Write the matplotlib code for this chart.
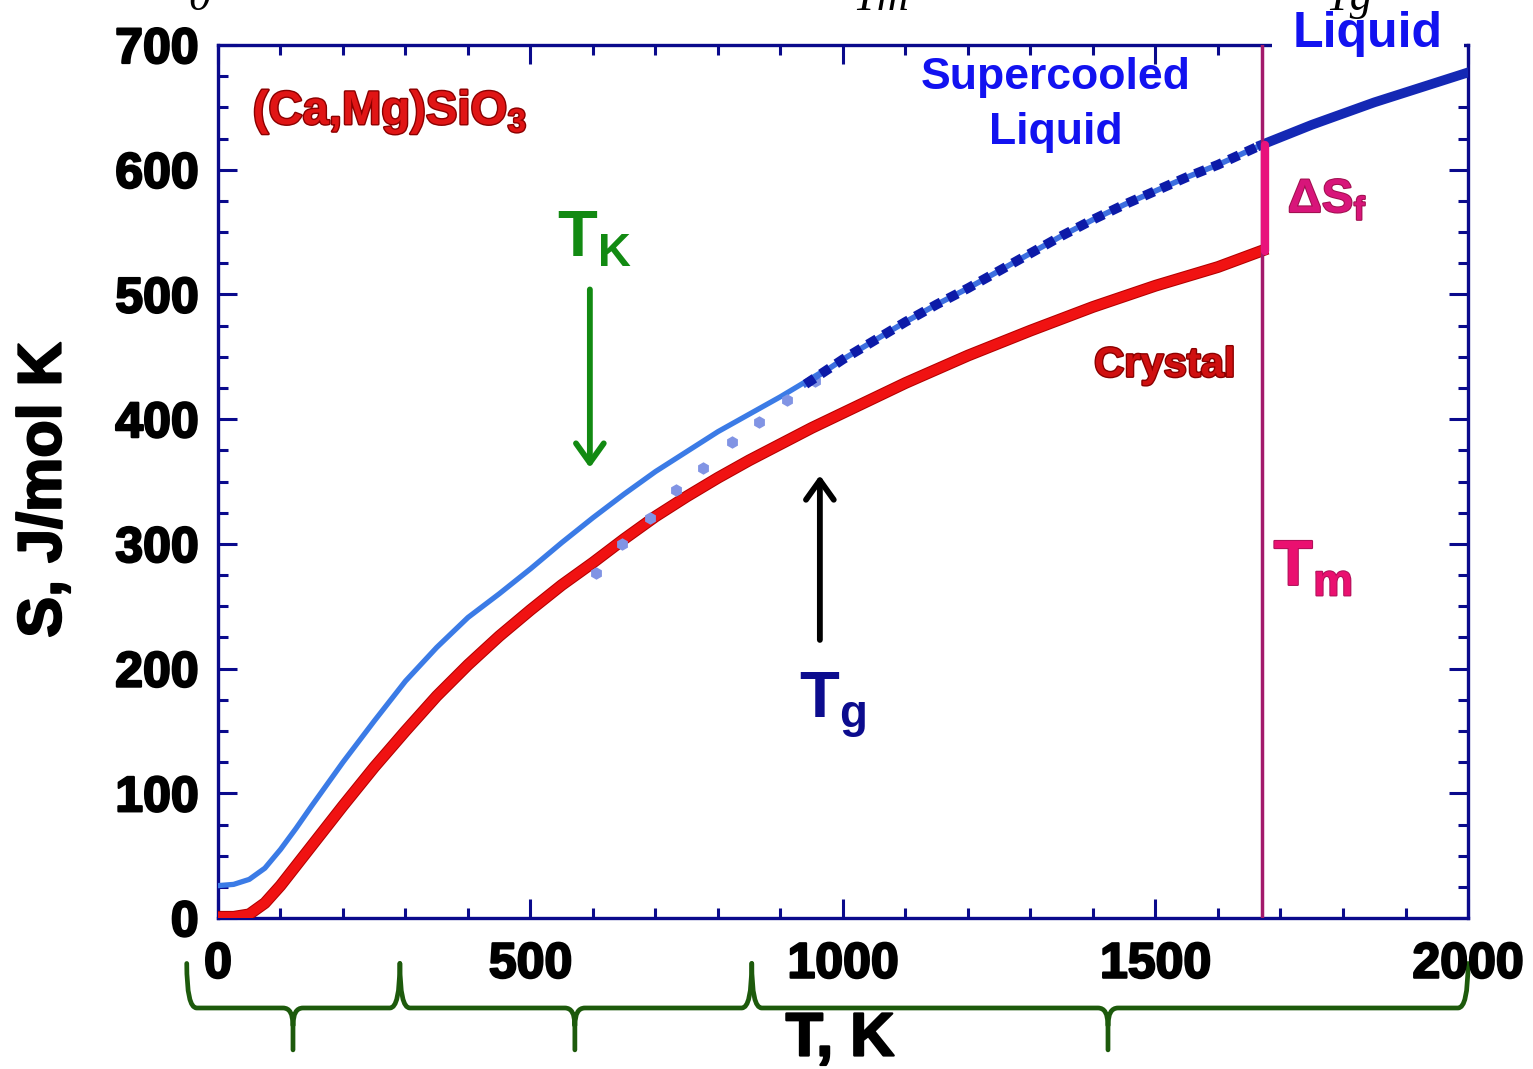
import matplotlib.pyplot as plt
import matplotlib.transforms as mtransforms
import matplotlib.patheffects as pe
from matplotlib.path import Path
from matplotlib.patches import PathPatch, Rectangle
from matplotlib.ticker import MultipleLocator

plt.rcParams['font.family'] = ['Liberation Sans', 'DejaVu Sans']
plt.rcParams['font.weight'] = 'bold'
plt.rcParams['mathtext.fontset'] = 'custom'
plt.rcParams['mathtext.rm'] = 'Liberation Sans:bold'
plt.rcParams['mathtext.bf'] = 'Liberation Sans:bold'

# Entropy S (J/mol K) against temperature T (K) for (Ca,Mg)SiO3
crystal_T = [0, 25, 50, 75, 100, 125, 150, 200, 250, 300, 350, 400, 450,
             500, 550, 600, 650, 700, 750, 800, 850, 900, 950, 1000, 1100,
             1200, 1300, 1400, 1500, 1600, 1670]
crystal_S = [1, 1, 3, 12, 26, 42, 58, 90, 121, 150, 178, 203, 226,
             247, 267, 285, 304, 322, 338, 353, 367, 380, 393, 405, 429,
             451, 471, 490, 507, 522, 535]

glass_T = [0, 25, 50, 75, 100, 125, 150, 200, 250, 300, 350, 400, 450,
           500, 550, 600, 650, 700, 750, 800, 850, 900, 960]
glass_S = [26, 27, 31, 40, 55, 72, 90, 125, 158, 190, 217, 241, 260,
           280, 301, 321, 340, 358, 374, 390, 404, 418, 436]

# extrapolated liquid below Tg (dots)
extrap_T = [605, 646, 691, 733, 776, 822, 866, 910, 955]
extrap_S = [277, 300, 321, 343, 361, 382, 398, 415, 431]

supercooled_T = [940, 1000, 1050, 1100, 1150, 1200, 1250, 1300, 1350, 1400,
                 1450, 1500, 1550, 1600, 1670]
supercooled_S = [428, 448, 463, 478, 492, 505, 519, 533, 547, 560,
                 572, 583, 594, 604, 620]

liquid_T = [1670, 1750, 1800, 1850, 1900, 1950, 2000]
liquid_S = [620, 636, 645, 654, 662, 670, 678]

T_melt = 1670

# temperature ranges marked by braces under the axis
brace_edges = [-50, 291, 854, 2000]
brace_tips = [120, 571, 1424]

navy = '#0a0a8c'

fig = plt.figure(figsize=(15.33, 10.69), dpi=100)
ax = fig.add_axes([0.1422, 0.1412, 0.8154, 0.8167])

outline = [pe.Stroke(linewidth=8.5, foreground='#b30000'), pe.Normal()]
ax.plot(crystal_T, crystal_S, color='#f01212', lw=7, path_effects=outline,
        solid_joinstyle='round', zorder=3)
ax.plot(glass_T, glass_S, color='#3b7be6', lw=3.8, solid_joinstyle='round', zorder=3)
ax.plot(extrap_T, extrap_S, 'h', color='#8194e4', ms=9, mec='none', zorder=3)
ax.plot(supercooled_T, supercooled_S, color='#3d6fe0', lw=4, zorder=3)
ax.plot(supercooled_T, supercooled_S, color='#0c1aa8', lw=7,
        dashes=(1.1, 0.8), zorder=3)
ax.plot(liquid_T, liquid_S, color='#1428b4', lw=7, zorder=3)

# melting line and entropy of fusion jump
ax.axvline(T_melt, color='#a3196b', lw=2.5, zorder=3)
ax.plot([T_melt + 6, T_melt + 6], [crystal_S[-1], supercooled_S[-1]],
        color='#e8127c', lw=6, solid_capstyle='round', zorder=4)

ax.set_xlim(0, 2000)
ax.set_ylim(0, 700)
ax.xaxis.set_major_locator(MultipleLocator(500))
ax.xaxis.set_minor_locator(MultipleLocator(100))
ax.yaxis.set_major_locator(MultipleLocator(100))
ax.yaxis.set_minor_locator(MultipleLocator(25))

for sp in ax.spines.values():
    sp.set_color(navy)
    sp.set_linewidth(2.4)
ax.tick_params(which='both', direction='in', top=True, right=True,
               color=navy, width=2.2)
ax.tick_params(which='major', length=14)
ax.tick_params(which='minor', length=7)
ax.tick_params(axis='x', pad=17, labelsize=36)
ax.tick_params(axis='y', pad=14, labelsize=36)
heavy = [pe.withStroke(linewidth=1.6, foreground='black')]
for lab in ax.get_xticklabels() + ax.get_yticklabels():
    lab.set_path_effects(heavy)

# white box over the top edge where the "Liquid" label sits
blend = mtransforms.blended_transform_factory(ax.transData, ax.transAxes)
ax.add_patch(Rectangle((1686, 0.975), 307, 0.04, transform=blend,
                       facecolor='white', edgecolor='none', zorder=5, clip_on=False))

fig.text(45 / 1533, 1 - 490 / 1069, 'S, J/mol K', rotation=90,
         ha='center', va='center', fontsize=44, fontweight='bold',
         path_effects=heavy)
fig.text(840 / 1533, 1 - 1040 / 1069, 'T, K',
         ha='center', va='center', fontsize=44, fontweight='bold',
         path_effects=heavy)

red_edge = [pe.withStroke(linewidth=2, foreground='#8a0000')]
ax.text(275, 646, '(Ca,Mg)SiO$_\\mathbf{3}$', color='#e01515', fontsize=34,
        ha='center', va='center', path_effects=red_edge)
ax.text(1515, 443, 'Crystal', color='#d01010', fontsize=30,
        ha='center', va='center', path_effects=red_edge)

ax.text(1341, 674, 'Supercooled', color='#1212f0', fontsize=32,
        ha='center', va='center')
ax.text(1341, 630, 'Liquid', color='#1212f0', fontsize=32,
        ha='center', va='center')
ax.text(1840, 709, 'Liquid', color='#1212f0', fontsize=36,
        ha='center', va='center', clip_on=False, zorder=6)

ax.text(603, 531, 'T$_\\mathbf{K}$', color='#128a12', fontsize=47,
        ha='center', va='baseline')
ax.text(984, 160, 'T$_\\mathbf{g}$', color='#0c0c8e', fontsize=47,
        ha='center', va='baseline')
ax.text(1752, 267, 'T$_\\mathbf{m}$', color='#ea1070', fontsize=46,
        ha='center', va='baseline',
        path_effects=[pe.withStroke(linewidth=1.5, foreground='#b0105a')])
ax.text(1775, 566, '\u0394S$_\\mathbf{f}$', color='#d8157a', fontsize=34,
        ha='center', va='baseline',
        path_effects=[pe.withStroke(linewidth=1.5, foreground='#a0104f')])

arrow_style = '->, head_length=1.4, head_width=1.0'
ax.annotate('', xy=(595, 361), xytext=(595, 504),
            arrowprops=dict(arrowstyle=arrow_style, color='#128a12', lw=4.2,
                            mutation_scale=10, shrinkA=0, shrinkB=0))
ax.annotate('', xy=(963, 355), xytext=(963, 223),
            arrowprops=dict(arrowstyle=arrow_style, color='black', lw=4.2,
                            mutation_scale=10, shrinkA=0, shrinkB=0))

# partially visible labels along the top edge
for xp, s in [(199, '0'), (881, 'Tm'), (1349, 'Tg')]:
    fig.text(xp / 1533, 1 - 10 / 1069, s, family='Liberation Serif',
             style='italic', fontweight='normal', fontsize=32,
             ha='center', va='baseline')

# curly braces below the temperature axis
y_end, y_mid, y_tip = -0.052, -0.103, -0.151
r, d = 16, 0.02
for a, b, c in zip(brace_edges[:-1], brace_edges[1:], brace_tips):
    verts = [(a, y_end), (a, y_mid), (a + r, y_mid), (c - r, y_mid),
             (c, y_mid), (c, y_mid - d), (c, y_tip),
             (c, y_mid - d), (c, y_mid), (c + r, y_mid), (b - r, y_mid),
             (b, y_mid), (b, y_end)]
    codes = [Path.MOVETO, Path.CURVE3, Path.CURVE3, Path.LINETO,
             Path.CURVE3, Path.CURVE3, Path.LINETO,
             Path.MOVETO, Path.CURVE3, Path.CURVE3, Path.LINETO,
             Path.CURVE3, Path.CURVE3]
    ax.add_patch(PathPatch(Path(verts, codes), transform=blend, fill=False,
                           edgecolor='#1d5a0c', lw=3.4, clip_on=False,
                           capstyle='round', joinstyle='round'))

fig.savefig('out.png', dpi=100)
